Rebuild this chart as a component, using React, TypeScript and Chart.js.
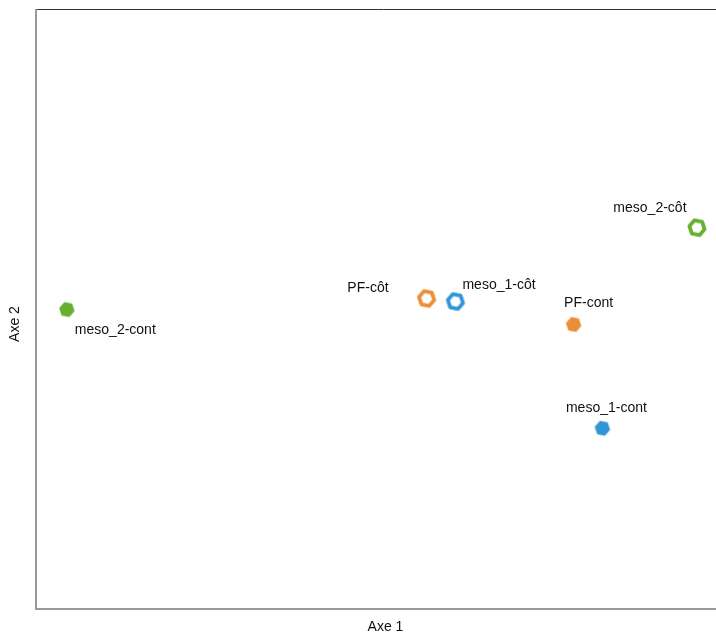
import React, { useEffect, useRef } from "react";
import { Chart, registerables } from "chart.js";

Chart.register(...registerables);

// Data (Axe 1 / Axe 2 coordinates)
const pointLabels = ["meso_2-cont", "PF-côt", "meso_1-côt", "PF-cont", "meso_1-cont", "meso_2-côt"];
const axe1Values = [4.44, 56.2, 60.35, 77.35, 81.5, 95.1];
const axe2Values = [49.83, 51.67, 51.17, 47.33, 30.0, 63.5];
const groups = ["meso_2", "PF", "meso_1", "PF", "meso_1", "meso_2"];
const filledFlags = [true, false, false, true, true, false];
const axisTitles = ["Axe 1", "Axe 2"];

const groupColors: Record<string, string> = {
  PF: "rgb(234,142,58)",
  meso_1: "rgb(48,150,214)",
  meso_2: "rgb(104,176,50)",
};

// label offsets [dx, dy, align]
const labelOffsets: [number, number, CanvasTextAlign][] = [
  [8, 21, "left"],
  [-38, -10, "right"],
  [7, -16, "left"],
  [15, -21, "center"],
  [4, -20, "center"],
  [-47, -19, "center"],
];

function hexagon(color: string, filled: boolean): HTMLCanvasElement {
  const size = 24;
  const c = document.createElement("canvas");
  c.width = size;
  c.height = size;
  const ctx = c.getContext("2d")!;
  const cx = size / 2;
  const cy = size / 2;
  const r = filled ? 7.9 : 7.8;
  ctx.beginPath();
  for (let i = 0; i < 6; i++) {
    const a = (Math.PI / 3) * i + 0.2;
    const px = cx + r * Math.cos(a);
    const py = cy + r * Math.sin(a);
    if (i === 0) ctx.moveTo(px, py);
    else ctx.lineTo(px, py);
  }
  ctx.closePath();
  if (filled) {
    ctx.fillStyle = color;
    ctx.fill();
  } else {
    ctx.strokeStyle = color;
    ctx.lineWidth = 3.8;
    ctx.lineJoin = "round";
    ctx.stroke();
  }
  return c;
}

const decorPlugin = {
  id: "decor",
  afterDatasetsDraw(chart: any) {
    const { ctx, chartArea } = chart;
    const { left, top, right, bottom } = chartArea;
    ctx.save();
    // frame
    ctx.strokeStyle = "#333333";
    ctx.lineWidth = 1;
    ctx.beginPath();
    ctx.moveTo(left, top + 0.5);
    ctx.lineTo(right, top + 0.5);
    ctx.stroke();
    ctx.strokeStyle = "#999999";
    ctx.lineWidth = 2;
    ctx.beginPath();
    ctx.moveTo(left, top);
    ctx.lineTo(left, bottom + 1);
    ctx.lineTo(right, bottom + 1);
    ctx.stroke();
    // point labels
    ctx.font = "14px 'Liberation Sans', Arial, sans-serif";
    ctx.fillStyle = "#111111";
    ctx.textBaseline = "middle";
    const meta = chart.getDatasetMeta(0);
    meta.data.forEach((el: any, i: number) => {
      const [dx, dy, align] = labelOffsets[i];
      ctx.textAlign = align;
      ctx.fillText(pointLabels[i], el.x + dx, el.y + dy);
    });
    // axis titles
    ctx.textAlign = "center";
    ctx.fillText(axisTitles[0], (left + right) / 2 + 2, 627);
    ctx.translate(15, 324);
    ctx.rotate(-Math.PI / 2);
    ctx.fillText(axisTitles[1], 0, 0);
    ctx.restore();
  },
};

export default function App() {
  const canvasRef = useRef<HTMLCanvasElement | null>(null);

  useEffect(() => {
    if (!canvasRef.current) return;
    const colors = groups.map((g) => groupColors[g]);
    const styles = colors.map((c, i) => hexagon(c, filledFlags[i]));
    const chart = new Chart(canvasRef.current, {
      type: "scatter",
      data: {
        datasets: [
          {
            data: axe1Values.map((x, i) => ({ x, y: axe2Values[i] })),
            pointStyle: styles as any,
            backgroundColor: colors,
            borderColor: colors,
            pointRadius: 8,
          },
        ],
      },
      options: {
        animation: false,
        responsive: false,
        layout: { padding: { left: 36, top: 8, right: 2, bottom: 29 } },
        plugins: { legend: { display: false }, tooltip: { enabled: false } },
        scales: {
          x: { display: false, min: 0, max: 100 },
          y: { display: false, min: 0, max: 100 },
        },
      },
      plugins: [decorPlugin],
    });
    return () => chart.destroy();
  }, []);

  return (
    <div
      style={{
        position: "fixed",
        left: 0,
        top: 0,
        width: 716,
        height: 637,
        overflow: "hidden",
        background: "#ffffff",
      }}
    >
      <canvas ref={canvasRef} width={740} height={637} style={{ display: "block" }} />
    </div>
  );
}
